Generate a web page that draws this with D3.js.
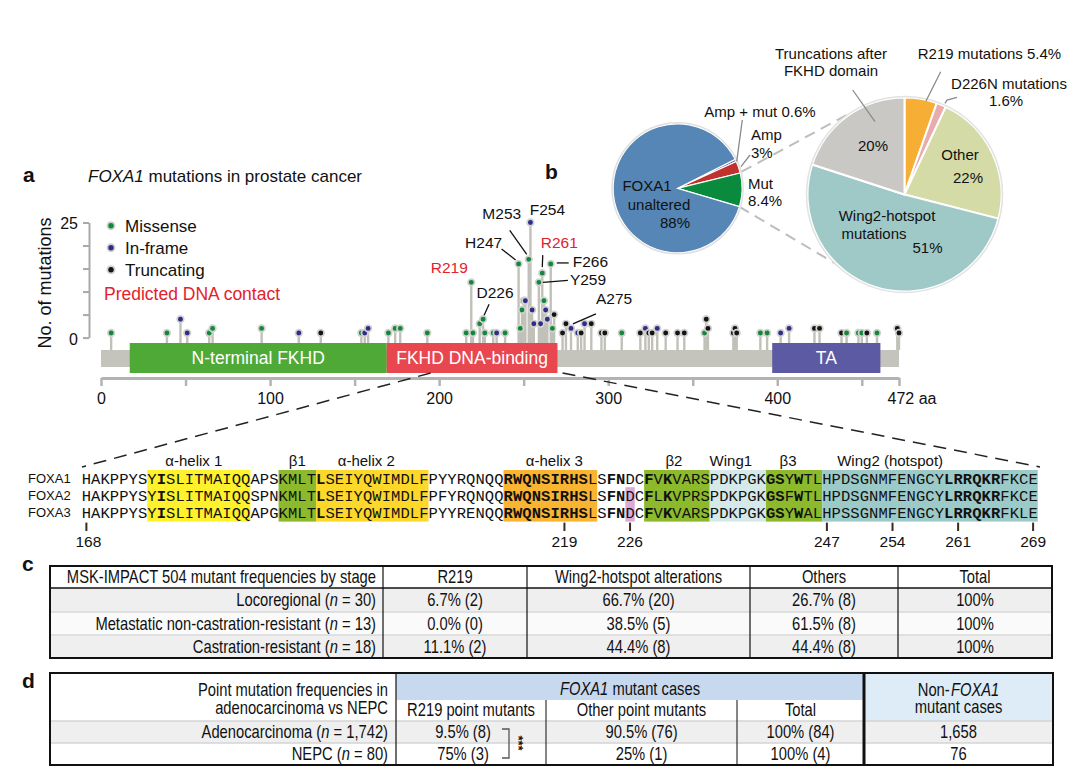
<!DOCTYPE html>
<html>
<head>
<meta charset="utf-8">
<script src="https://cdn.jsdelivr.net/npm/d3@7"></script>
<style>
  body { margin: 0; background: #fff; }
  svg { display: block; }
  text { font-family: "Liberation Sans", Arial, Helvetica, sans-serif; fill: #111; }
  .tbl text { font-size: 18px; }
  .seq text { font-family: "Liberation Mono", "Courier New", monospace; font-size: 15.5px; }
</style>
</head>
<body>
<svg id="fig" width="1080" height="782"></svg>
<script>
// ---------- panel a: lollipop data ----------
const mutPos   = [6, 39, 47, 51, 64, 66, 95, 117, 130, 154, 156, 158, 170, 174, 177, 193, 216, 219, 220, 224,
                  226, 227, 232, 234, 239, 247, 248, 249, 250, 251, 253, 254, 255, 256, 259, 260, 261, 262, 263, 264,
                  266, 267, 268, 273, 275, 278, 282, 284, 286, 290, 296, 298, 308, 319, 322, 324, 326, 329, 334, 341,
                  345, 357, 358, 359, 374, 375, 376, 390, 394, 402, 407, 422, 425, 438, 441, 448, 450, 453, 459, 471, 472];
const mutCount = [1, 1, 4, 1, 1, 2, 2, 1, 1, 1, 1, 2, 1, 2, 2, 1, 1, 12, 1, 3,
                  4, 1, 1, 1, 1, 16, 2, 6, 8, 8, 17, 25, 6, 3, 12, 3, 14, 8, 6, 4,
                  16, 2, 5, 1, 3, 2, 1, 1, 3, 3, 1, 1, 1, 1, 2, 1, 1, 2, 1, 1,
                  1, 1, 4, 2, 1, 2, 1, 1, 1, 1, 2, 2, 2, 1, 1, 1, 1, 1, 1, 2, 1];
const mutType  = ["M","M","I","I","M","M","M","I","T","M","I","I","M","M","M","M","M","M","M","M",
                  "M","M","M","I","M","M","M","M","I","I","M","I","I","I","M","I","M","M","I","I",
                  "M","M","T","T","T","I","I","T","I","T","T","T","M","T","I","T","T","I","T","T",
                  "T","M","T","T","T","T","T","M","M","I","I","T","T","T","M","M","M","T","M","T","T"];
const typeKeys   = ["M", "I", "T"];
const typeNames  = ["Missense", "In-frame", "Truncating"];
const typeColors = ["#13873d", "#2f2c8a", "#141414"];

const domainNames  = ["N-terminal FKHD", "FKHD DNA-binding", "TA"];
const domainStart  = [17, 169, 397];
const domainEnd    = [169, 270, 461];
const domainColors = ["#4fa936", "#e8474f", "#5d5aa4"];
const proteinLength = 472;

const hotspots   = ["R219", "D226", "H247", "M253", "F254", "R261", "F266", "Y259", "A275"];
const contactRes = ["R219", "R261"];

// ---------- panel b: pie data ----------
const pie1Names  = ["Amp + mut", "Amp", "Mut", "FOXA1 unaltered"];
const pie1Values = [0.6, 3, 8.4, 88];
const pie1Colors = ["#6c5fa9", "#c0322b", "#0a8a3c", "#5686b6"];

const pie2Names  = ["R219 mutations", "D226N mutations", "Other", "Wing2-hotspot mutations", "Truncations after FKHD domain"];
const pie2Values = [5.4, 1.6, 22, 51, 20];
const pie2Colors = ["#f6ae35", "#e8acab", "#d5dba7", "#9ec9c7", "#c9c8c4"];

// ---------- sequence alignment ----------
const seqNames = ["FOXA1", "FOXA2", "FOXA3"];
const seqs = [
  "HAKPPYSYISLITMAIQQAPSKMLTLSEIYQWIMDLFPYYRQNQQRWQNSIRHSLSFNDCFVKVARSPDKPGKGSYWTLHPDSGNMFENGCYLRRQKRFKCE",
  "HAKPPYSYISLITMAIQQSPNKMLTLSEIYQWIMDLFPFYRQNQQRWQNSIRHSLSFNDCFLKVPRSPDKPGKGSFWTLHPDSGNMFENGCYLRRQKRFKCE",
  "HAKPPYSYISLITMAIQQAPGKMLTLSEIYQWIMDLFPYYRENQQRWQNSIRHSLSFNDCFVKVARSPDKPGKGSYWALHPSSGNMFENGCYLRRQKRFKLE"
];
const seqStart = 168;
const ssNames  = ["α-helix 1", "β1", "α-helix 2", "α-helix 3", "β2", "Wing1", "β3", "Wing2 (hotspot)"];
const ssStart  = [175, 189, 193, 213, 228, 235, 241, 247];
const ssEnd    = [185, 192, 204, 222, 234, 240, 246, 269];
const ssColors = ["#fff12b", "#8dba2c", "#fdd82b", "#f9b431", "#8dba2c", "#d5e9e9", "#8dba2c", "#9ccac9"];
const boldRes  = [176, 193, 213, 214, 215, 216, 217, 218, 219, 220, 221, 224, 225, 228, 230, 241, 242, 244,
                  260, 261, 262, 263, 264, 265];
const seqTicks = [168, 219, 226, 247, 254, 261, 269];

// ---------- panel c table ----------
const cHeader = ["MSK-IMPACT 504 mutant frequencies by stage", "R219", "Wing2-hotspot alterations", "Others", "Total"];
const cStages = ["Locoregional", "Metastatic non-castration-resistant", "Castration-resistant"];
const cN      = ["30", "13", "18"];
const cR219   = ["6.7% (2)", "0.0% (0)", "11.1% (2)"];
const cWing2  = ["66.7% (20)", "38.5% (5)", "44.4% (8)"];
const cOthers = ["26.7% (8)", "61.5% (8)", "44.4% (8)"];
const cTotal  = ["100%", "100%", "100%"];

// ---------- panel d table ----------
const dGroups = ["Adenocarcinoma", "NEPC"];
const dN      = ["1,742", "80"];
const dR219   = ["9.5% (8)", "75% (3)"];
const dOther  = ["90.5% (76)", "25% (1)"];
const dTotal  = ["100% (84)", "100% (4)"];
const dNon    = ["1,658", "76"];

const svg = d3.select("#fig");

// ================= panel a =================
const x = d3.scaleLinear().domain([0, proteinLength]).range([101, 899]);
const y = d3.scaleLinear().domain([0, 25]).range([337.6, 222.5]);
const barTop = 350, barBot = 367, domTop = 343, domBot = 373;
const colorOf = t => typeColors[typeKeys.indexOf(t)];

svg.append("text").attr("x", 23).attr("y", 182).style("font-weight", "bold").style("font-size", "21px").text("a");
const ttl = svg.append("text").attr("x", 88).attr("y", 182).style("font-size", "17px");
ttl.append("tspan").style("font-style", "italic").text("FOXA1");
ttl.append("tspan").text(" mutations in prostate cancer");

svg.append("text")
  .attr("transform", "translate(51,283) rotate(-90)")
  .attr("text-anchor", "middle")
  .style("font-size", "18px")
  .text("No. of mutations");

const yAxis = svg.append("g")
  .attr("transform", "translate(89,0)")
  .call(d3.axisLeft(y).tickValues([0, 5, 10, 15, 20, 25]).tickSize(6).tickSizeOuter(0)
    .tickFormat(d => (d === 0 || d === 25) ? d : ""));
yAxis.select(".domain").attr("stroke", "#a9a9a9").attr("stroke-width", 2);
yAxis.selectAll(".tick line").attr("stroke", "#a9a9a9").attr("stroke-width", 2);
yAxis.selectAll(".tick text").style("font-size", "16px").attr("x", -11).attr("dy", "0.4em");

// protein backbone
svg.append("rect").attr("x", x(0)).attr("y", barTop).attr("width", x(proteinLength) - x(0))
  .attr("height", barBot - barTop).attr("fill", "#c4c3bc");

// stems
const muts = mutPos.map((p, i) => ({ pos: p, count: mutCount[i], type: mutType[i] }));
svg.append("g").selectAll("line").data(muts).join("line")
  .attr("x1", d => x(d.pos)).attr("x2", d => x(d.pos))
  .attr("y1", barTop).attr("y2", d => y(d.count))
  .attr("stroke", "#c1c0b9").attr("stroke-width", 2.4);

// domains
svg.append("g").selectAll("rect").data(domainNames).join("rect")
  .attr("x", (d, i) => x(domainStart[i])).attr("y", domTop)
  .attr("width", (d, i) => x(domainEnd[i]) - x(domainStart[i])).attr("height", domBot - domTop)
  .attr("fill", (d, i) => domainColors[i]);
svg.append("g").selectAll("text").data(domainNames).join("text")
  .attr("x", (d, i) => (x(domainStart[i]) + x(domainEnd[i])) / 2).attr("y", 364)
  .attr("text-anchor", "middle").style("font-size", "17.5px").style("fill", "#fff")
  .text(d => d);

// heads
svg.append("g").selectAll("circle").data(muts).join("circle")
  .attr("cx", d => x(d.pos)).attr("cy", d => y(d.count)).attr("r", 3.3)
  .attr("fill", d => colorOf(d.type)).attr("stroke", "#d2d2ce").attr("stroke-width", 1.7);

// x axis
const xAxis = svg.append("g")
  .attr("transform", "translate(0,378)")
  .call(d3.axisBottom(x).tickValues([0, 50, 100, 150, 200, 250, 300, 350, 400, 450, 472])
    .tickSize(8).tickSizeOuter(0).tickPadding(7)
    .tickFormat(d => d === 472 ? "472 aa" : (d % 100 === 0 ? d : "")));
xAxis.select(".domain").attr("stroke", "#b3b3b3").attr("stroke-width", 3);
xAxis.selectAll(".tick line").attr("stroke", "#b3b3b3").attr("stroke-width", 2.5);
xAxis.selectAll(".tick text").style("font-size", "16px").style("fill", "#111");
xAxis.selectAll(".tick text").filter(d => d === 472).attr("text-anchor", "start").attr("x", -12);

// hotspot labels (layout: text offset from head, optional leader)
const labelLayout = {
  R219: { tx: -22, ty: -9,  anchor: "middle", lead: null },
  D226: { tx: 12,  ty: -21, anchor: "middle", lead: [6, -15, 1, -4] },
  H247: { tx: -35, ty: -16, anchor: "middle", lead: [-17, -15, -3, -4] },
  M253: { tx: -27, ty: -40, anchor: "middle", lead: [-19, -29, -2, -5] },
  F254: { tx: 17,  ty: -8,  anchor: "middle", lead: null },
  R261: { tx: 17,  ty: -25, anchor: "middle", lead: [0.5, -18, 0, -6] },
  F266: { tx: 22,  ty: 3,   anchor: "start",  lead: [6, -1, 18, -1] },
  Y259: { tx: 31,  ty: 3,   anchor: "start",  lead: [4, 0, 29, -2] },
  A275: { tx: 30,  ty: -20, anchor: "start",  lead: [30, -10, 7, 0] }
};
hotspots.forEach(h => {
  const pos = +h.slice(1);
  const m = muts.filter(d => d.pos === pos)[0] || muts.filter(d => d.pos === pos + 3)[0];
  const hx = x(pos), hy = y(m ? m.count : 1);
  const L = labelLayout[h];
  svg.append("text").attr("x", hx + L.tx).attr("y", hy + L.ty).attr("text-anchor", L.anchor)
    .style("font-size", "15.5px").style("fill", contactRes.includes(h) ? "#e3222b" : "#111").text(h);
  if (L.lead) {
    svg.append("line").attr("x1", hx + L.lead[0]).attr("y1", hy + L.lead[1])
      .attr("x2", hx + L.lead[2]).attr("y2", hy + L.lead[3]).attr("stroke", "#111").attr("stroke-width", 1.3);
  }
});

// legend
typeNames.forEach((n, i) => {
  svg.append("circle").attr("cx", 111).attr("cy", 225.7 + i * 22).attr("r", 3.6)
    .attr("fill", typeColors[i]).attr("stroke", "#d2d2ce").attr("stroke-width", 1.8);
  svg.append("text").attr("x", 125).attr("y", 231.5 + i * 22).style("font-size", "17px").text(n);
});
svg.append("text").attr("x", 104).attr("y", 300).style("font-size", "17.5px").style("fill", "#e3222b")
  .text("Predicted DNA contact");

// ================= panel b =================
svg.append("text").attr("x", 545).attr("y", 179).style("font-weight", "bold").style("font-size", "21px").text("b");

const deg = Math.PI / 180;
const p1 = { cx: 677.6, cy: 188.3, r: 64.5 };
const p2 = { cx: 904.5, cy: 194.5, r: 97 };

// dashed connectors between pies
svg.append("g").selectAll("line").data([[741.7, 171.7, 846.7, 115], [739.3, 206.7, 843.3, 268.3]]).join("line")
  .attr("x1", d => d[0]).attr("y1", d => d[1]).attr("x2", d => d[2]).attr("y2", d => d[3])
  .attr("stroke", "#bdbdbd").attr("stroke-width", 2).attr("stroke-dasharray", "11,7");

const pie1 = d3.pie().sort(null).value(d => d).startAngle(63.3 * deg).endAngle(63.3 * deg + 2 * Math.PI)(pie1Values);
svg.append("g").attr("transform", `translate(${p1.cx},${p1.cy})`)
  .selectAll("path").data(pie1).join("path")
  .attr("d", d3.arc().innerRadius(0).outerRadius(p1.r))
  .attr("fill", (d, i) => pie1Colors[i]).attr("stroke", "#fff").attr("stroke-width", 1.2);
svg.append("circle").attr("cx", p1.cx).attr("cy", p1.cy).attr("r", p1.r + 1)
  .attr("fill", "none").attr("stroke", "#e0e0e0").attr("stroke-width", 1.5);

const pie2 = d3.pie().sort(null).value(d => d)(pie2Values);
svg.append("g").attr("transform", `translate(${p2.cx},${p2.cy})`)
  .selectAll("path").data(pie2).join("path")
  .attr("d", d3.arc().innerRadius(0).outerRadius(p2.r))
  .attr("fill", (d, i) => pie2Colors[i]).attr("stroke", "#fff").attr("stroke-width", 2);
svg.append("circle").attr("cx", p2.cx).attr("cy", p2.cy).attr("r", p2.r + 1)
  .attr("fill", "none").attr("stroke", "#e2e2e2").attr("stroke-width", 1.5);

const pct = v => v + "%";
function label(lines, xx, yy, anchor) {
  const t = svg.append("text").attr("text-anchor", anchor || "middle").style("font-size", "15px");
  lines.forEach((l, i) => t.append("tspan").attr("x", xx).attr("y", yy + i * 17.5).text(l));
  return t;
}
function lead(pts) {
  svg.append("path").attr("d", d3.line()(pts)).attr("fill", "none").attr("stroke", "#8a8a8a").attr("stroke-width", 1.3);
}
// pie 1 labels
label(["FOXA1"], 647, 191);
label(["unaltered"], 659, 209.5);
label([pct(pie1Values[3])], 675, 228);
label([pie1Names[0] + " " + pct(pie1Values[0])], 760, 117);
label([pie1Names[1], pct(pie1Values[1])], 751, 140, "start");
label([pie1Names[2], pct(pie1Values[2])], 748, 188.5, "start");
lead([[742.3, 120], [736.7, 161.7]]);
lead([[750, 155], [741, 166.7]]);

// pie 2 labels
label(["Truncations after", "FKHD domain"], 831, 58.5);
lead([[852.7, 90], [875, 121.7]]);
label([pie2Names[0] + " " + pct(pie2Values[0])], 989.5, 58.5);
lead([[940.7, 71.7], [926, 101]]);
label([pie2Names[1]], 1009, 88.5);
label([pct(pie2Values[1])], 1006, 106);
lead([[957, 97.3], [947, 100], [945, 103.3]]);
label([pct(pie2Values[4])], 873, 150.5);
label([pie2Names[2]], 960, 159.5);
label([pct(pie2Values[2])], 968, 183);
label(["Wing2-hotspot"], 887, 220.5);
label(["mutations"], 874, 238.5);
label([pct(pie2Values[3])], 927.5, 253);

// ================= sequence alignment =================
const residues = d3.range(seqStart, seqStart + seqs[0].length);
const sx = d3.scaleBand().domain(residues).range([81.7, 1037.8]);
const bw = sx.bandwidth();
const rowTop = 470, rowH = 17.2;

// zoom connectors from the protein
svg.append("g").selectAll("line").data([[x(195), 82], [x(273), 1040]]).join("line")
  .attr("x1", d => d[0]).attr("y1", domBot).attr("x2", d => d[1]).attr("y2", 467)
  .attr("stroke", "#222").attr("stroke-width", 1.5).attr("stroke-dasharray", "13,8");

svg.append("g").selectAll("rect").data(ssNames).join("rect")
  .attr("x", (d, i) => sx(ssStart[i])).attr("y", rowTop)
  .attr("width", (d, i) => sx(ssEnd[i]) + bw - sx(ssStart[i])).attr("height", rowH * 3)
  .attr("fill", (d, i) => ssColors[i]);
// D226 highlight
svg.append("rect").attr("x", sx(226)).attr("y", rowTop + rowH).attr("width", bw).attr("height", rowH * 2)
  .attr("fill", "#dcaad3");

const ssShift = [-5, 0, -6, 4, -3, -7, -6, null];
svg.append("g").selectAll("text").data(ssNames).join("text")
  .attr("x", (d, i) => ssShift[i] === null ? sx(ssStart[i]) + 15 : (sx(ssStart[i]) + sx(ssEnd[i]) + bw) / 2 + ssShift[i])
  .attr("y", 466).attr("text-anchor", (d, i) => ssShift[i] === null ? "start" : "middle")
  .style("font-size", "15px").text(d => d);

seqNames.forEach((name, r) => {
  svg.append("text").attr("x", 28).attr("y", rowTop + r * rowH + 13).style("font-size", "13px").text(name);
  const g = svg.append("g").attr("class", "seq");
  g.selectAll("text").data(seqs[r].split("")).join("text")
    .attr("x", (c, i) => sx(seqStart + i) + bw / 2)
    .attr("y", rowTop + r * rowH + 13.5)
    .attr("text-anchor", "middle")
    .style("font-weight", (c, i) => boldRes.includes(seqStart + i) ? "bold" : "normal")
    .text(c => c);
});

svg.append("g").selectAll("line").data(seqTicks).join("line")
  .attr("x1", d => sx(d) + bw / 2).attr("x2", d => sx(d) + bw / 2)
  .attr("y1", rowTop + rowH * 3 + 1).attr("y2", 531)
  .attr("stroke", "#3b2a1e").attr("stroke-width", 2);
svg.append("g").selectAll("text").data(seqTicks).join("text")
  .attr("x", d => sx(d) + bw / 2 + (d === 168 ? 2 : 0)).attr("y", 547).attr("text-anchor", "middle")
  .style("font-size", "15.5px").text(d => d);

// condensed table text: horizontally squeezed Liberation Sans
const squeeze = 0.82;
function ttext(g, xx, yy, anchor) {
  return g.append("text").attr("transform", `translate(${xx},${yy}) scale(${squeeze},1)`)
    .attr("text-anchor", anchor || "middle");
}

// ================= panel c =================
svg.append("text").attr("x", 22).attr("y", 571).style("font-weight", "bold").style("font-size", "21px").text("c");
const cx = [50, 383, 527, 750, 898, 1052];
const cy = [566, 588, 612, 635, 658];
const cg = svg.append("g").attr("class", "tbl");
cStages.forEach((s, i) => {
  cg.append("rect").attr("x", cx[0]).attr("y", cy[i + 1]).attr("width", cx[5] - cx[0]).attr("height", cy[i + 2] - cy[i + 1])
    .attr("fill", i % 2 === 0 ? "#efefef" : "#fafafa");
});
[cy[2], cy[3]].forEach(yy => cg.append("line").attr("x1", cx[0]).attr("x2", cx[5]).attr("y1", yy).attr("y2", yy)
  .attr("stroke", "#d9d9d9").attr("stroke-width", 1.5));
cx.slice(1, 5).forEach(xx => cg.append("line").attr("x1", xx).attr("x2", xx).attr("y1", cy[0]).attr("y2", cy[4])
  .attr("stroke", "#222").attr("stroke-width", 1.3));
cg.append("line").attr("x1", cx[0]).attr("x2", cx[5]).attr("y1", cy[1]).attr("y2", cy[1]).attr("stroke", "#111").attr("stroke-width", 1.6);
cg.append("rect").attr("x", cx[0]).attr("y", cy[0]).attr("width", cx[5] - cx[0]).attr("height", cy[4] - cy[0])
  .attr("fill", "none").attr("stroke", "#111").attr("stroke-width", 2);

cHeader.forEach((h, j) => {
  ttext(cg, j === 0 ? cx[1] - 7 : (cx[j] + cx[j + 1]) / 2, 583, j === 0 ? "end" : "middle").text(h);
});
const cCols = [cR219, cWing2, cOthers, cTotal];
cStages.forEach((s, i) => {
  const yy = cy[i + 1] + 18;
  const t = ttext(cg, cx[1] - 7, yy, "end");
  t.append("tspan").text(s + " (");
  t.append("tspan").style("font-style", "italic").text("n");
  t.append("tspan").text(" = " + cN[i] + ")");
  cCols.forEach((col, j) => {
    ttext(cg, (cx[j + 1] + cx[j + 2]) / 2, yy, "middle").text(col[i]);
  });
});

// ================= panel d =================
svg.append("text").attr("x", 22).attr("y", 688).style("font-weight", "bold").style("font-size", "21px").text("d");
const dx = [50, 396, 546, 737, 864, 1053];
const dy = [673, 700, 721, 743, 765];
const dg = svg.append("g").attr("class", "tbl");
dg.append("rect").attr("x", dx[1]).attr("y", dy[0]).attr("width", dx[4] - dx[1]).attr("height", dy[1] - dy[0]).attr("fill", "#c7d9ef");
dg.append("rect").attr("x", dx[4]).attr("y", dy[0]).attr("width", dx[5] - dx[4]).attr("height", dy[2] - dy[0]).attr("fill", "#ddecf6");
dg.append("rect").attr("x", dx[0]).attr("y", dy[2]).attr("width", dx[5] - dx[0]).attr("height", dy[3] - dy[2]).attr("fill", "#efefef");
dg.append("line").attr("x1", dx[0]).attr("x2", dx[5]).attr("y1", dy[2]).attr("y2", dy[2]).attr("stroke", "#d4d4d4").attr("stroke-width", 1.5);
dg.append("line").attr("x1", dx[0]).attr("x2", dx[5]).attr("y1", dy[3]).attr("y2", dy[3]).attr("stroke", "#d4d4d4").attr("stroke-width", 1.5);
dg.append("line").attr("x1", dx[1]).attr("x2", dx[1]).attr("y1", dy[0]).attr("y2", dy[4]).attr("stroke", "#222").attr("stroke-width", 1.3);
[dx[2], dx[3]].forEach(xx => dg.append("line").attr("x1", xx).attr("x2", xx).attr("y1", dy[1]).attr("y2", dy[4])
  .attr("stroke", "#222").attr("stroke-width", 1.1));
dg.append("line").attr("x1", dx[4]).attr("x2", dx[4]).attr("y1", dy[0]).attr("y2", dy[4]).attr("stroke", "#111").attr("stroke-width", 3);
dg.append("rect").attr("x", dx[0]).attr("y", dy[0]).attr("width", dx[5] - dx[0]).attr("height", dy[4] - dy[0])
  .attr("fill", "none").attr("stroke", "#111").attr("stroke-width", 2);

ttext(dg, dx[1] - 8, 696, "end").text("Point mutation frequencies in");
ttext(dg, dx[1] - 8, 714, "end").text("adenocarcinoma vs NEPC");
const gh = ttext(dg, (dx[1] + dx[4]) / 2, 695, "middle");
gh.append("tspan").style("font-style", "italic").text("FOXA1");
gh.append("tspan").text(" mutant cases");
["R219 point mutants", "Other point mutants", "Total"].forEach((h, j) => {
  ttext(dg, (dx[j + 1] + dx[j + 2]) / 2, 716, "middle").text(h);
});
const nh = ttext(dg, (dx[4] + dx[5]) / 2, 696, "middle");
nh.append("tspan").text("Non-");
nh.append("tspan").attr("dx", 1.5).style("font-style", "italic").text("FOXA1");
ttext(dg, (dx[4] + dx[5]) / 2, 713, "middle").text("mutant cases");

const dCols = [dR219, dOther, dTotal, dNon];
const dShift = [-8, 0, 0, 0];
dGroups.forEach((g, i) => {
  const yy = dy[i + 2] + 16.5;
  const t = ttext(dg, dx[1] - 8, yy, "end");
  t.append("tspan").text(g + " (");
  t.append("tspan").style("font-style", "italic").text("n");
  t.append("tspan").text(" = " + dN[i] + ")");
  dCols.forEach((col, j) => {
    ttext(dg, (dx[j + 1] + dx[j + 2]) / 2 + dShift[j], yy, "middle").text(col[i]);
  });
});
// significance bracket
svg.append("path").attr("d", "M502,729 H509 V758 H502").attr("fill", "none").attr("stroke", "#555").attr("stroke-width", 1.3);
svg.append("text").attr("transform", "translate(514,743) rotate(90)").attr("text-anchor", "middle")
  .style("font-size", "13px").style("font-weight", "bold").text("***");
</script>
</body>
</html>
